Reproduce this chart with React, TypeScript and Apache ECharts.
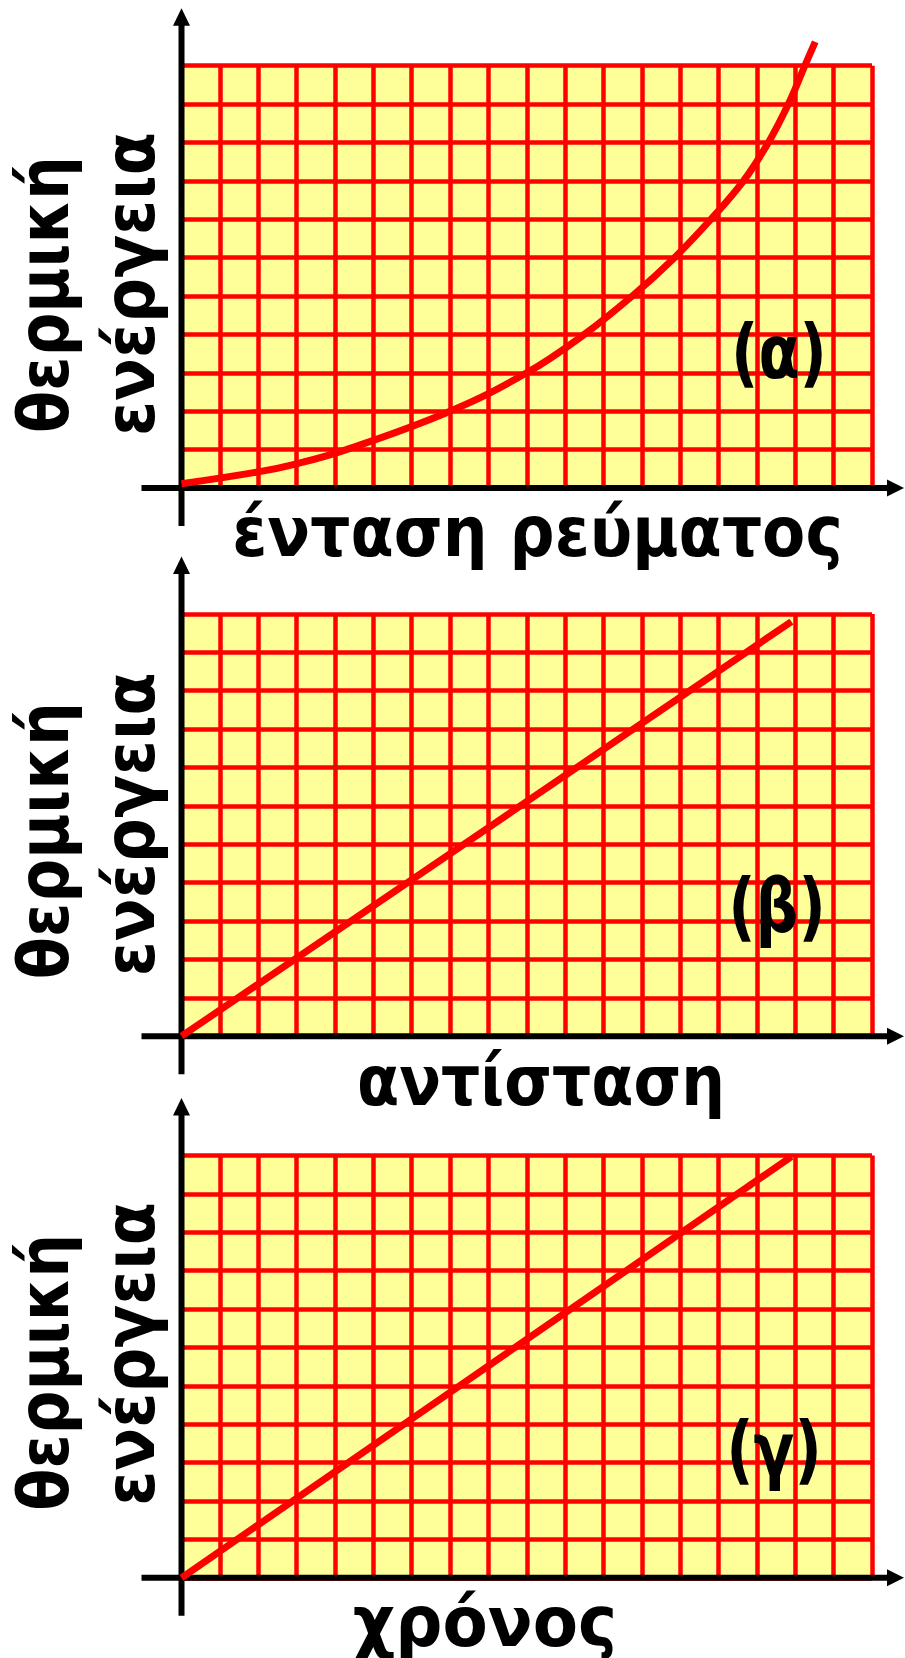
import React, { useEffect, useRef } from "react";
import * as echarts from "echarts";

// ---- data ----
const X_MAX = 18;
const Y_MAX = 11;
const curveA: [number, number][] = [
  [0, 0.11], [2, 0.42], [3, 0.63], [4.3, 1], [7, 2], [9, 3], [10.5, 4],
  [11.75, 5], [12.85, 6], [13.8, 7], [14.65, 8], [15.3, 9], [15.82, 10],
  [16.25, 11], [16.52, 11.62],
];
const lineB: [number, number][] = [[0, 0], [15.9, 10.8]];
const lineC: [number, number][] = [[0, 0], [15.9, 10.97]];
const seriesData = [curveA, lineB, lineC];
const smoothFlags = [true, false, false];
const yTitleTop = "θερμική";
const yTitleBottom = "ενέργεια";
const xTitles = ["ένταση ρεύματος", "αντίσταση", "χρόνος"];
const panelTags = ["(α)", "(β)", "(γ)"];

// ---- layout ----
const W = 905;
const H = 1658;
const GRID_LEFT = 181.5;
const GRID_WIDTH = 690.5;
const GRID_HEIGHT = 422.3;
const GRID_TOPS = [65.7, 613.9, 1155.5];
const X_TITLE_CX = [537.5, 541, 485];
const X_TITLE_SX = [1.0, 0.975, 1.047];
const TAG_CX = [779, 777, 774];
const TAG_DY = [-135.5, -130.5, -128.5];
const YT1_DY = [-55, -57, -67];
const YT2_DY = [-52, -60, -72];
const FS = 63;
const SY = 1.1;
const FONT = "DejaVu Sans";
const RED = "#FF0000";
const YELLOW = "#FFFF99";

function txt(text: string, x: number, y: number, extra: any, align: string) {
  return {
    type: "text", z: 10, x, y, ...extra,
    style: { text, fill: "#000", fontSize: FS, fontWeight: "bold", fontFamily: FONT, align, verticalAlign: "middle" },
  };
}

function buildGraphics() {
  const g: any[] = [];
  GRID_TOPS.forEach((top, i) => {
    const axisY = top + GRID_HEIGHT;
    const ox = GRID_LEFT;
    // x axis
    g.push({ type: "line", z: 3, shape: { x1: ox - 40, y1: axisY, x2: W - 14, y2: axisY }, style: { stroke: "#000", lineWidth: 6 } });
    g.push({ type: "polygon", z: 3, shape: { points: [[W - 1, axisY], [W - 18, axisY - 8.5], [W - 18, axisY + 8.5]] }, style: { fill: "#000" } });
    // y axis
    g.push({ type: "line", z: 3, shape: { x1: ox, y1: axisY + 38, x2: ox, y2: top - 42 }, style: { stroke: "#000", lineWidth: 6 } });
    g.push({ type: "polygon", z: 3, shape: { points: [[ox, top - 57.5], [ox - 8.5, top - 40], [ox + 8.5, top - 40]] }, style: { fill: "#000" } });
    // y titles (rotated, reading upward)
    g.push(txt(yTitleTop, 44, axisY + YT1_DY[i], { rotation: Math.PI / 2, scaleX: 0.975, scaleY: SY }, "left"));
    g.push(txt(yTitleBottom, 130, axisY + YT2_DY[i], { rotation: Math.PI / 2, scaleX: 1.0, scaleY: SY }, "left"));
    // x title
    g.push(txt(xTitles[i], X_TITLE_CX[i], axisY + 44, { scaleX: X_TITLE_SX[i], scaleY: SY }, "center"));
    // panel tag
    g.push(txt(panelTags[i], TAG_CX[i], axisY + TAG_DY[i], { scaleX: 0.95, scaleY: 1.18 }, "center"));
  });
  return g;
}

export default function App() {
  const ref = useRef<HTMLDivElement>(null);
  useEffect(() => {
    if (!ref.current) return;
    const chart = echarts.init(ref.current, undefined, { renderer: "svg", width: W, height: H });
    const splitLine = { show: true, lineStyle: { color: RED, width: 4.5 } };
    const option: any = {
      animation: false,
      backgroundColor: "#fff",
      grid: GRID_TOPS.map((top) => ({
        left: GRID_LEFT, top, width: GRID_WIDTH, height: GRID_HEIGHT,
        show: true, backgroundColor: YELLOW, borderWidth: 0, containLabel: false,
      })),
      xAxis: GRID_TOPS.map((_, i) => ({
        type: "value", gridIndex: i, min: 0, max: X_MAX, interval: 1,
        axisLine: { show: false }, axisTick: { show: false }, axisLabel: { show: false },
        splitLine,
      })),
      yAxis: GRID_TOPS.map((_, i) => ({
        type: "value", gridIndex: i, min: 0, max: Y_MAX, interval: 1,
        axisLine: { show: false }, axisTick: { show: false }, axisLabel: { show: false },
        splitLine,
      })),
      series: seriesData.map((d, i) => ({
        type: "line", xAxisIndex: i, yAxisIndex: i, data: d,
        smooth: smoothFlags[i] ? 0.4 : false,
        symbol: "none", clip: false, z: 5,
        lineStyle: { color: RED, width: 7, cap: "butt" },
      })),
      graphic: buildGraphics(),
    };
    chart.setOption(option);
    return () => chart.dispose();
  }, []);
  return <div ref={ref} style={{ position: "absolute", left: 0, top: 0, width: W, height: H }} />;
}
